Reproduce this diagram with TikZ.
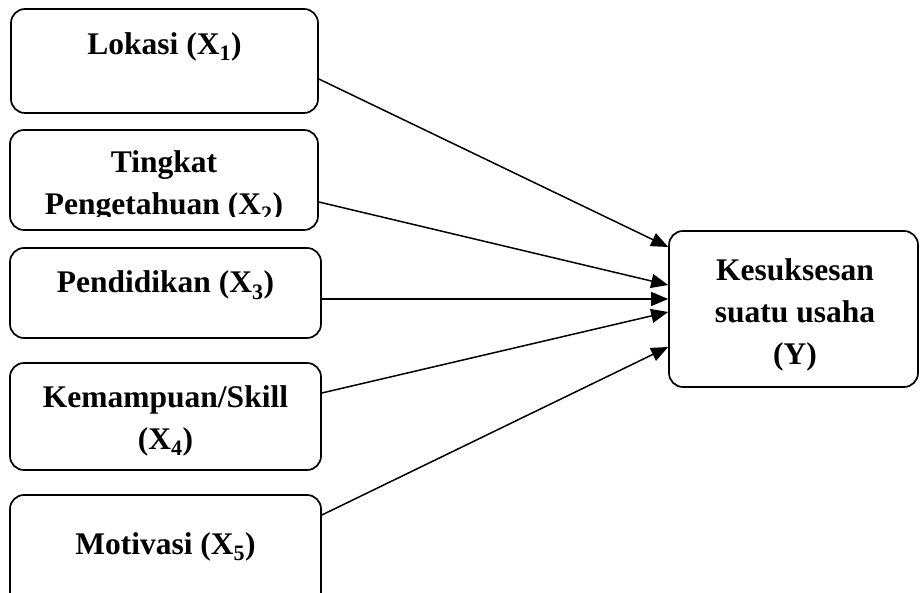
\documentclass[tikz,border=0pt]{standalone}
\usepackage{fontspec}
\setmainfont{Liberation Serif}
\usetikzlibrary{arrows.meta}
\begin{document}
\begin{tikzpicture}[x=1pt,y=1pt,
  box/.style={draw, line width=1.7pt, rounded corners=14pt, inner sep=0pt},
  lbl/.style={font=\bfseries\fontsize{31.5}{42}\selectfont, align=center, inner sep=0pt, anchor=base},
  conn/.style={line width=1.5pt, -{Triangle[length=17pt,width=14pt]}}]
\useasboundingbox (0,0) rectangle (920,593);
\clip (0,0) rectangle (920,593);
% boxes
\node[box, minimum width=307pt, minimum height=104pt] (b1) at (164.5,532) {};
\node[box, minimum width=308pt, minimum height=100pt] (b2) at (164,413) {};
\node[box, minimum width=311pt, minimum height=90pt] (b3) at (165.5,300) {};
\node[box, minimum width=311pt, minimum height=107pt] (b4) at (165.5,176.5) {};
\node[box, minimum width=311pt, minimum height=115pt] (b5) at (165.5,40.5) {};
\node[box, minimum width=249pt, minimum height=156pt] (y) at (793.5,284) {};
% labels (base anchor = baseline of last line)
\node[lbl] (t1) at (164.5,538) {Lokasi (X\textsubscript{1})};
\begin{scope}
\clip (10,376) rectangle (318,463);
\node[lbl] (t2) at (164,378) {Tingkat\\Pengetahuan (X\textsubscript{2})};
\end{scope}
\node[lbl] (t3) at (165.5,300) {Pendidikan (X\textsubscript{3})};
\node[lbl] (t4) at (165.5,143) {Kemampuan/Skill\\(X\textsubscript{4})};
\node[lbl] (t5) at (165.5,38) {Motivasi (X\textsubscript{5})};
\node[lbl] (ty) at (795,228) {Kesuksesan\\suatu usaha\\(Y)};
% connectors
\draw[conn] ([yshift=-18pt]b1.east) -- ([yshift=62pt]y.west);
\draw[conn] ([yshift=-22pt]b2.east) -- ([yshift=24pt]y.west);
\draw[conn] ([yshift=-6pt]b3.east) -- ([yshift=10pt]y.west);
\draw[conn] ([yshift=23.5pt]b4.east) -- ([yshift=-3pt]y.west);
\draw[conn] ([yshift=37.5pt]b5.east) -- ([yshift=-38pt]y.west);
\end{tikzpicture}
\end{document}
